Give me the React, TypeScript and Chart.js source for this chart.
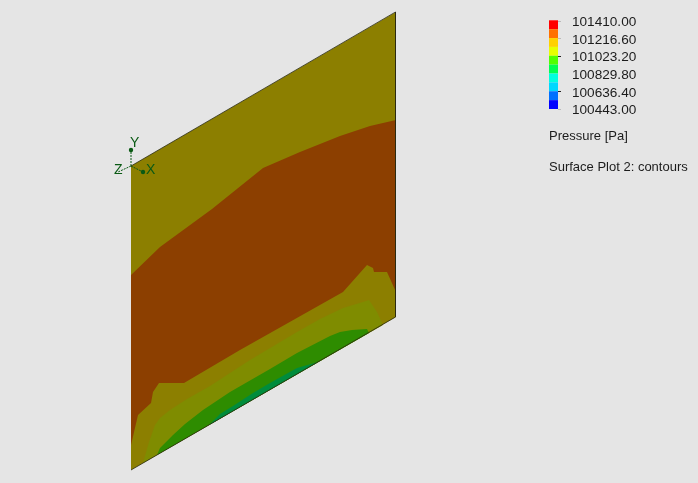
import React, { useEffect, useRef } from "react";
import { Chart, registerables } from "chart.js";

Chart.register(...registerables);

type P = [number, number];

const plate: P[] = [[131, 166], [396, 12], [396, 317], [131, 470]];
const frameEdges: P[] = [[131, 166], [395.5, 12], [395.5, 317], [131, 470]];
const brownZone: P[] = [
  [131, 275], [160, 247], [186, 228], [212, 209], [263, 168], [300, 152], [340, 136], [370, 126], [396, 120],
  [396, 292], [387, 272], [378, 272], [374, 272], [373, 268], [367, 265], [343, 292], [240, 350], [184, 383],
  [159, 383], [153, 392], [151, 403], [138, 415], [131, 445],
];
const limeZone: P[] = [
  [383, 325], [377, 312], [369, 300], [363, 302], [343, 308], [320, 319], [297, 332], [250, 360], [210, 386], [187, 399], [170, 410], [160, 418],
  [155, 425], [149, 442], [143, 463],
];
const greenZone: P[] = [
  [369, 333], [367, 329], [352, 330], [340, 332], [330, 336], [297, 353], [270, 369], [230, 392], [203, 410], [185, 424], [173, 435],
  [160, 448], [157, 455],
];
const darkGreenZone: P[] = [
  [318, 362], [297, 368], [270, 383], [253, 393], [233, 406], [220, 414], [209, 425],
];

const colorbarLabels = ["101410.00", "101216.60", "101023.20", "100829.80", "100636.40", "100443.00"];
const colorbarColors = ["#ff0000", "#ff7000", "#ffd000", "#e6ff00", "#50ff00", "#00ff50", "#00ffe0", "#00d8ff", "#0070ff", "#0000ff"];
const colorbarTickColors = ["#bbbbbb", "#bbbbbb", "#222222", "", "#222222", "#bbbbbb"];
const titleLines = ["Pressure [Pa]", "Surface Plot 2: contours"];
const triadLabels = ["Y", "X", "Z"];
const triadLineY: P[] = [[131, 166], [131, 150]];
const triadLineX: P[] = [[131, 166], [143, 172]];
const triadLineZ: P[] = [[131, 166], [118, 172]];

const OLIVE = "#8c7f00";
const BROWN = "#8c3f00";
const LIME = "#7f8c00";
const GREEN = "#2e8c00";
const DARK_GREEN = "#008c3c";
const TRIAD = "#0a5a14";

const toXY = (pts: P[]) => pts.map(([x, y]) => ({ x, y }));

const barTop = 20.3;
const barStep = 8.87;
const barLeft = 549;
const barRight = 558;

const bandPolys: P[][] = colorbarColors.map((_, i) => [
  [barLeft, barTop + i * barStep],
  [barRight, barTop + i * barStep],
  [barRight, barTop + (i + 1) * barStep],
  [barLeft, barTop + (i + 1) * barStep],
]);

const polygonPlugin = {
  id: "polygonFill",
  beforeDatasetsDraw(chart: any) {
    const ctx = chart.ctx;
    chart.data.datasets.forEach((ds: any, i: number) => {
      if (!ds.polyFill) return;
      const pts = chart.getDatasetMeta(i).data;
      ctx.save();
      ctx.beginPath();
      pts.forEach((p: any, k: number) => (k ? ctx.lineTo(p.x, p.y) : ctx.moveTo(p.x, p.y)));
      ctx.closePath();
      ctx.fillStyle = ds.polyFill;
      ctx.fill();
      ctx.restore();
    });
  },
};

const textPlugin = {
  id: "texts",
  afterDraw(chart: any) {
    const ctx = chart.ctx;
    const sx = chart.scales.x;
    const sy = chart.scales.y;
    ctx.save();
    ctx.textBaseline = "middle";
    ctx.textAlign = "left";
    ctx.font = '13.6px "Liberation Sans", Arial, sans-serif';
    ctx.fillStyle = "#1c1c1c";
    colorbarLabels.forEach((t, i) => {
      const y = 21.5 + i * 17.6;
      ctx.fillText(t, sx.getPixelForValue(572), sy.getPixelForValue(y + 1));
      if (colorbarTickColors[i]) {
        ctx.strokeStyle = colorbarTickColors[i];
        ctx.beginPath();
        ctx.moveTo(sx.getPixelForValue(barRight), Math.round(sy.getPixelForValue(y - 1)) + 0.5);
        ctx.lineTo(sx.getPixelForValue(barRight + 3), Math.round(sy.getPixelForValue(y - 1)) + 0.5);
        ctx.stroke();
      }
    });
    ctx.font = '13px "Liberation Sans", Arial, sans-serif';
    ctx.fillText(titleLines[0], sx.getPixelForValue(549), sy.getPixelForValue(136));
    ctx.fillText(titleLines[1], sx.getPixelForValue(549), sy.getPixelForValue(167));
    ctx.fillStyle = TRIAD;
    ctx.font = '14px "Liberation Sans", Arial, sans-serif';
    ctx.fillText(triadLabels[0], sx.getPixelForValue(130), sy.getPixelForValue(143));
    ctx.fillText(triadLabels[1], sx.getPixelForValue(146), sy.getPixelForValue(170));
    ctx.fillText(triadLabels[2], sx.getPixelForValue(114), sy.getPixelForValue(170));
    ctx.restore();
  },
};

const poly = (pts: P[], color: string) => ({
  data: toXY(pts),
  polyFill: color,
  showLine: false,
  pointRadius: 0,
});

const line = (pts: P[], color: string, dash: number[], width: number, tipRadius: number) => ({
  data: toXY(pts),
  showLine: true,
  borderColor: color,
  borderWidth: width,
  borderDash: dash,
  tension: 0,
  pointRadius: pts.map((_, i) => (i === pts.length - 1 ? tipRadius : 0)),
  pointBackgroundColor: color,
  pointBorderWidth: 0,
});

export default function App() {
  const ref = useRef<HTMLCanvasElement>(null);
  useEffect(() => {
    document.body.style.margin = "0";
    const chart = new Chart(ref.current as HTMLCanvasElement, {
      type: "scatter",
      data: {
        datasets: [
          poly(plate, OLIVE),
          poly(brownZone, BROWN),
          poly(limeZone, LIME),
          poly(greenZone, GREEN),
          poly(darkGreenZone, DARK_GREEN),
          ...bandPolys.map((b, i) => poly(b, colorbarColors[i])),
          line(frameEdges, "#2a2a10", [], 0.8, 0),
          line(triadLineY, TRIAD, [2, 1], 1, 2.2),
          line(triadLineX, TRIAD, [2, 1], 1, 2.2),
          line(triadLineZ, TRIAD, [2, 1], 1, 0),
        ] as any,
      },
      options: {
        animation: false,
        responsive: false,
        devicePixelRatio: 1,
        layout: { padding: 0, autoPadding: false },
        plugins: { legend: { display: false }, tooltip: { enabled: false } },
        scales: {
          x: { type: "linear", min: 0, max: 698, display: false },
          y: { type: "linear", min: 0, max: 483, reverse: true, display: false },
        },
      },
      plugins: [polygonPlugin, textPlugin],
    });
    return () => chart.destroy();
  }, []);
  return (
    <canvas
      ref={ref}
      width={698}
      height={483}
      style={{ display: "block", width: 698, height: 483, background: "#e5e5e5" }}
    />
  );
}
